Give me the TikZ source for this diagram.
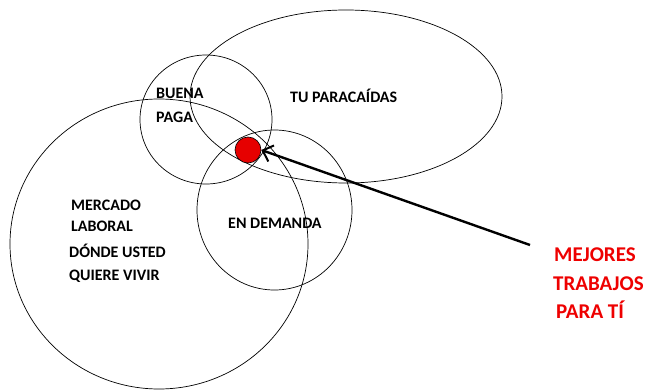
\documentclass[tikz,border=0pt]{standalone}
\usepackage{fontspec}
\setmainfont{Carlito}
\usetikzlibrary{shapes.geometric,arrows.meta}
\definecolor{dotred}{RGB}{230,0,0}
\definecolor{txtred}{RGB}{238,0,0}
\begin{document}
\begin{tikzpicture}[x=1pt,y=-1pt,
  venn/.style={draw=black,line width=0.7pt,ellipse,inner sep=0pt},
  lbl/.style={font=\fontsize{16}{18}\selectfont\bfseries,anchor=base west,inner sep=0pt},
  redlbl/.style={font=\fontsize{21}{24}\selectfont\bfseries,text=txtred,anchor=base west,inner sep=0pt}]
\useasboundingbox (0,0) rectangle (645,390);
\node[venn,minimum width=298pt,minimum height=290pt] (mercado) at (159,244) {};
\node[venn,minimum width=132pt,minimum height=129pt] (buena) at (206,119.5) {};
\node[venn,minimum width=312pt,minimum height=173pt] (paraca) at (346,96.5) {};
\node[venn,minimum width=155pt,minimum height=160pt] (demanda) at (274.5,210) {};
\node[circle,draw=black,line width=0.6pt,fill=dotred,minimum size=26pt,inner sep=0pt] (dot) at (248,150) {};
\node[lbl] (t1) at (156,99) {BUENA};
\node[lbl] (t2) at (156,123) {PAGA};
\node[lbl] (t3) at (290,102.5) {TU PARACAÍDAS};
\node[lbl] (t4) at (71,211) {MERCADO};
\node[lbl] (t5) at (71,232) {LABORAL};
\node[lbl] (t6) at (69,257.5) {DÓNDE USTED};
\node[lbl] (t7) at (69,280.5) {QUIERE VIVIR};
\node[lbl] (t8) at (228,228.5) {EN DEMANDA};
\node[redlbl] (r1) at (554,261) {MEJORES};
\node[redlbl] (r2) at (553,290) {TRABAJOS};
\node[redlbl] (r3) at (556,318) {PARA TÍ};
\coordinate (start) at (530,245);
\draw[line width=2.4pt,-{Straight Barb[length=9pt,width=17pt,line width=2pt]}] (start) -- (dot.east);
\end{tikzpicture}
\end{document}
